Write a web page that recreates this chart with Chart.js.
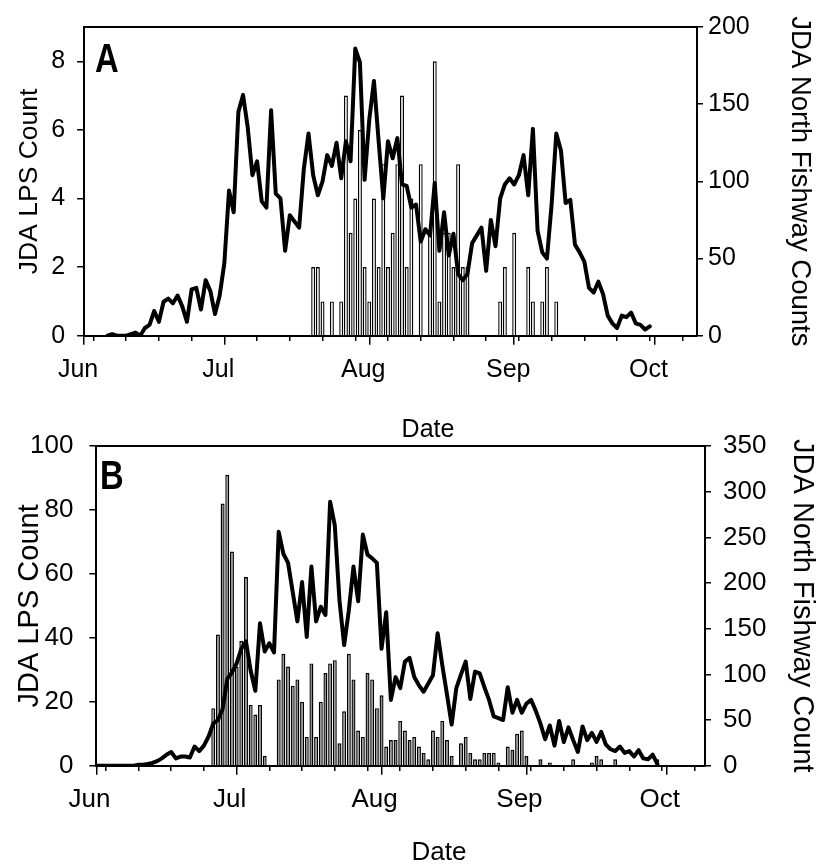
<!DOCTYPE html>
<html>
<head>
<meta charset="utf-8">
<script src="https://cdn.jsdelivr.net/npm/chart.js@4.4.1/dist/chart.umd.min.js"></script>
<style>
  body { margin: 0; background: #fff; }
  #wrap { position: relative; width: 820px; height: 867px; font-family: 'Liberation Sans', Arial, sans-serif; color: #000; }
  canvas { position: absolute; left: 0; }
  #chartA { top: 0; }
  #chartB { top: 400px; }
  .letter { position: absolute; font-size: 40px; font-weight: bold; line-height: 1; transform: scaleX(0.82); transform-origin: left top; }
  .date { position: absolute; font-size: 25px; line-height: 1; transform: translate(-50%, -50%); }
</style>
</head>
<body>
<div id="wrap">
  <canvas id="chartA" width="820" height="400"></canvas>
  <canvas id="chartB" width="820" height="467"></canvas>
  <div class="letter" style="left:95px; top:38px;">A</div>
  <div class="letter" style="left:100px; top:455px;">B</div>
  <div class="date" style="left:428px; top:428px;">Date</div>
  <div class="date" style="left:439px; top:851px; font-size:26px;">Date</div>
</div>
<script>
// shared x axis: day 0 = Jun 1
const monthLabels = ['Jun', 'Jul', 'Aug', 'Sep', 'Oct'];
const monthStartDays = [0, 30, 61, 92, 122];
const weekTickDays = [2, 9, 16, 23, 30, 37, 44, 51, 58, 65, 72, 79, 86, 93, 100, 107, 114, 121, 128];

// panel A
const aFishwayStartDay = 5;
const aFishwayCounts = [
    0, 1, 0, 0, 0, 1, 2, 0, 5, 7,
    16, 9, 22, 24, 21, 26, 19, 9, 30, 31,
    17, 36, 29, 14, 26, 47, 94, 80, 145, 156,
    135, 104, 113, 87, 83, 146, 92, 89, 55, 78,
    74, 70, 108, 131, 104, 91, 100, 117, 110, 125,
    102, 126, 113, 186, 177, 101, 140, 165, 126, 89,
    126, 115, 128, 98, 97, 83, 85, 61, 69, 65,
    99, 55, 80, 52, 66, 40, 36, 40, 60, 65,
    70, 42, 75, 58, 89, 98, 102, 98, 104, 117,
    91, 134, 68, 54, 50, 85, 131, 120, 86, 88,
    59, 54, 48, 31, 28, 35, 27, 13, 8, 5,
    13, 12, 15, 8, 7, 4, 6
];
const aLpsDays = [49, 50, 51, 53, 55, 56, 57, 58, 59, 60, 61, 62, 63, 64, 65, 66, 67, 68, 69, 70,
    72, 74, 75, 76, 77, 78, 79, 80, 81, 82, 89, 90, 92, 95, 96, 98, 99, 101];
const aLpsCounts = [2, 2, 1, 1, 1, 7, 3, 4, 6, 2, 1, 4, 2, 5, 2, 3, 5, 7, 2, 4,
    5, 3, 8, 1, 3, 3, 2, 5, 2, 2, 1, 2, 3, 2, 1, 1, 2, 1];
const aLpsTicks = [0, 2, 4, 6, 8];
const aFishwayTicks = [0, 50, 100, 150, 200];

// panel B
const bFishwayStartDay = 0;
const bFishwayCounts = [
    0, 0, 0, 0, 0, 0, 0, 0, 0, 1,
    1, 2, 3, 5, 8, 12, 15, 8, 10, 10,
    9, 21, 16, 22, 32, 46, 50, 62, 95, 102,
    112, 128, 136, 104, 82, 156, 125, 134, 124, 256,
    232, 222, 190, 158, 201, 141, 218, 158, 174, 165,
    289, 263, 181, 132, 170, 218, 180, 253, 231, 227,
    222, 128, 168, 72, 97, 85, 114, 118, 97, 88,
    81, 90, 99, 145, 110, 78, 45, 85, 100, 114,
    73, 103, 101, 86, 72, 54, 52, 50, 86, 58,
    72, 58, 68, 72, 60, 46, 29, 44, 22, 49,
    26, 42, 28, 15, 43, 28, 36, 26, 37, 23,
    18, 16, 21, 14, 16, 10, 17, 8, 7, 12, 2
];
const bLpsDays = [25, 26, 27, 28, 29, 30, 31, 32, 33, 34, 35, 36,
    39, 40, 41, 42, 43, 44, 45, 46, 47, 48, 49, 50, 51, 52, 53, 54, 55, 56, 57, 58,
    59, 60, 61, 62, 63, 64, 65, 66, 67, 68, 69, 70, 71, 72, 73, 74, 75, 76,
    78, 79, 80, 81, 82, 83, 84, 85, 86, 88, 89, 90, 91, 92,
    95, 97, 102, 106, 107, 108, 111, 120];
const bLpsCounts = [18, 41, 82, 91, 67, 31, 39, 59, 19, 16, 19, 3,
    27, 35, 31, 25, 27, 20, 9, 32, 9, 20, 29, 32, 33, 7, 17, 35, 27, 11, 9, 29,
    27, 18, 22, 6, 8, 8, 14, 11, 8, 9, 6, 4, 2, 11, 9, 14, 8, 3,
    7, 9, 4, 2, 2, 4, 4, 4, 1, 6, 5, 10, 11, 3,
    2, 1, 2, 1, 3, 2, 2, 2];
const bLpsTicks = [0, 20, 40, 60, 80, 100];
const bFishwayTicks = [0, 50, 100, 150, 200, 250, 300, 350];

const fontFamily = "'Liberation Sans', Arial, sans-serif";

const allTickDays = Array.from(new Set(weekTickDays.concat(monthStartDays))).sort((a, b) => a - b);

// top edge of the plot box
const frameTop = {
    id: 'frameTop',
    afterDraw(chart) {
        const ctx = chart.ctx;
        const a = chart.chartArea;
        ctx.save();
        ctx.strokeStyle = '#000';
        ctx.lineWidth = 2;
        ctx.beginPath();
        ctx.moveTo(a.left, a.top);
        ctx.lineTo(a.right, a.top);
        ctx.stroke();
        ctx.restore();
    }
};

function drawPanel(id, p) {
    const lineData = p.fish.map((v, i) => ({ x: p.fishStart + i, y: v }));
    const barData = p.lpsDays.map((d, i) => ({ x: d, y: p.lpsCounts[i] }));
    const tickFont = { family: fontFamily, size: p.tickSize };

    return new Chart(document.getElementById(id), {
        type: 'bar',
        data: {
            datasets: [{
                type: 'line',
                data: lineData,
                yAxisID: 'y2',
                borderColor: '#000',
                borderWidth: 4,
                borderJoinStyle: 'round',
                borderCapStyle: 'round',
                pointRadius: 0,
                tension: 0
            }, {
                type: 'bar',
                data: barData,
                yAxisID: 'y',
                backgroundColor: p.barFill,
                borderColor: '#000',
                borderWidth: 1.4,
                categoryPercentage: 1,
                barPercentage: 0.85
            }]
        },
        options: {
            responsive: false,
            animation: false,
            events: [],
            layout: { padding: { top: p.top, left: 0, right: 0, bottom: 0 } },
            plugins: { legend: { display: false }, tooltip: { enabled: false } },
            scales: {
                x: {
                    type: 'linear',
                    min: 0,
                    max: p.xMax,
                    offset: false,
                    afterBuildTicks: s => { s.ticks = allTickDays.map(v => ({ value: v })); },
                    afterFit: s => { s.height = p.xHeight; },
                    ticks: {
                        autoSkip: false,
                        maxRotation: 0,
                        padding: 10,
                        labelOffset: p.labelOffset,
                        color: '#000',
                        font: tickFont,
                        callback: v => {
                            const k = monthStartDays.indexOf(v);
                            return k >= 0 ? monthLabels[k] : '';
                        }
                    },
                    grid: {
                        offset: false,
                        drawOnChartArea: false,
                        tickLength: 9,
                        color: '#000',
                        lineWidth: 1.5,
                        tickBorderDash: c => monthStartDays.includes(c.tick.value) ? [] : [4, 40]
                    },
                    border: { color: '#000', width: 2 }
                },
                y: {
                    position: 'left',
                    min: 0,
                    max: p.lpsMax,
                    afterBuildTicks: s => { s.ticks = p.lpsTicks.map(v => ({ value: v })); },
                    afterFit: s => { s.width = p.leftWidth; },
                    ticks: { padding: p.leftPad, color: '#000', font: tickFont },
                    grid: { drawOnChartArea: false, tickLength: 7, color: '#000', lineWidth: 1.5 },
                    border: { color: '#000', width: 2 },
                    title: {
                        display: true,
                        text: 'JDA LPS Count',
                        color: '#000',
                        font: { family: fontFamily, size: p.leftTitleSize },
                        padding: { top: p.leftTitlePad, bottom: 0 }
                    }
                },
                y2: {
                    position: 'right',
                    min: 0,
                    max: p.fishMax,
                    afterBuildTicks: s => { s.ticks = p.fishTicks.map(v => ({ value: v })); },
                    afterFit: s => { s.width = p.rightWidth; },
                    ticks: { padding: p.rightPad, color: '#000', font: tickFont },
                    grid: { drawOnChartArea: false, tickLength: 6, color: '#000', lineWidth: 1.5 },
                    border: { color: '#000', width: 2 },
                    title: {
                        display: true,
                        text: p.rightTitle,
                        color: '#000',
                        font: { family: fontFamily, size: p.rightTitleSize },
                        padding: { top: p.rightTitlePad, bottom: 0 }
                    }
                }
            }
        },
        plugins: [frameTop]
    });
}

drawPanel('chartA', {
    fish: aFishwayCounts, fishStart: aFishwayStartDay,
    lpsDays: aLpsDays, lpsCounts: aLpsCounts,
    lpsTicks: aLpsTicks, fishTicks: aFishwayTicks,
    lpsMax: 9, fishMax: 200, xMax: 131.1,
    top: 16, leftWidth: 84.1, rightWidth: 123, xHeight: 64.3,
    leftPad: 12, rightPad: 5, labelOffset: -6, tickSize: 25,
    leftTitleSize: 26.5, leftTitlePad: 14, rightTitleSize: 27.5, rightTitlePad: 3.5,
    barFill: '#f4f4f4', rightTitle: 'JDA North Fishway Counts'
});

drawPanel('chartB', {
    fish: bFishwayCounts, fishStart: bFishwayStartDay,
    lpsDays: bLpsDays, lpsCounts: bLpsCounts,
    lpsTicks: bLpsTicks, fishTicks: bFishwayTicks,
    lpsMax: 100, fishMax: 350, xMax: 130.2,
    top: 46, leftWidth: 96.4, rightWidth: 115, xHeight: 101.3,
    leftPad: 16, rightPad: 12, labelOffset: -7, tickSize: 26,
    leftTitleSize: 29, leftTitlePad: 12.5, rightTitleSize: 29, rightTitlePad: 1,
    barFill: '#909090', rightTitle: 'JDA North Fishway Count'
});
</script>
</body>
</html>
